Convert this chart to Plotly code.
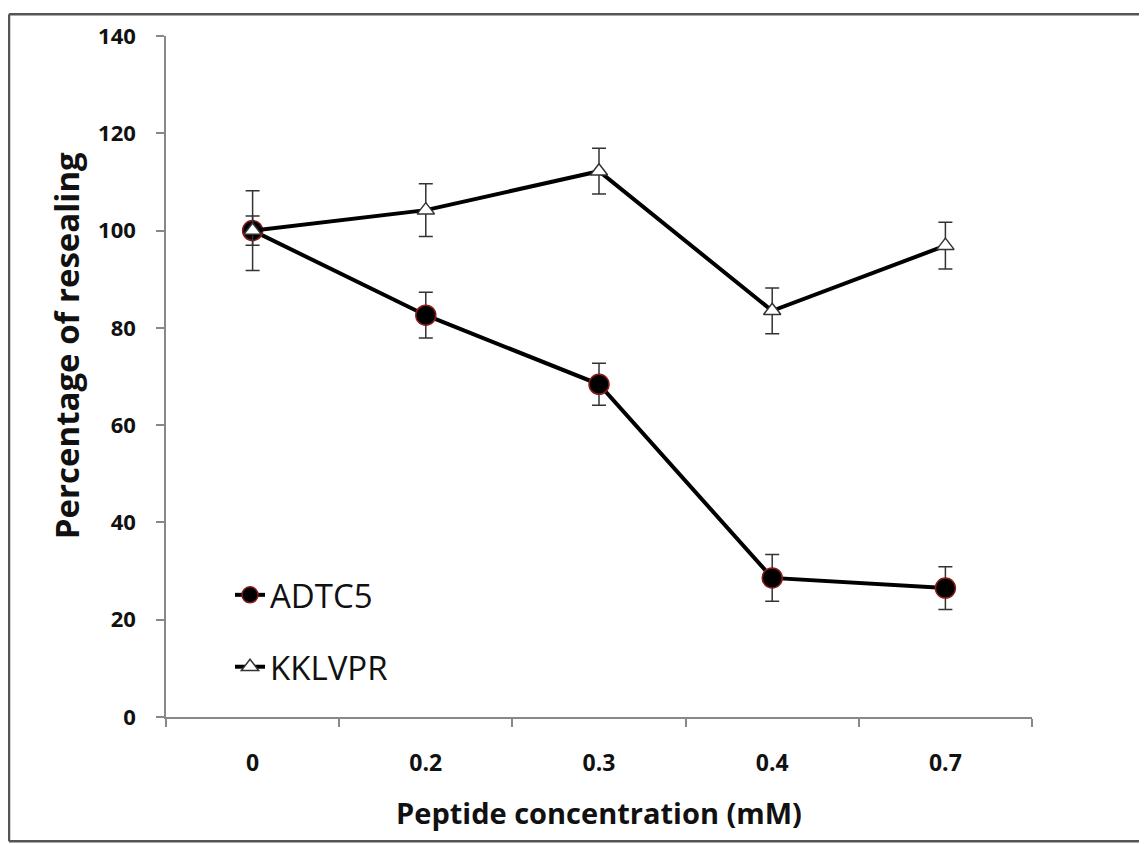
import plotly.graph_objects as go

categories = ["0", "0.2", "0.3", "0.4", "0.7"]
adtc5 = [100, 82.6, 68.4, 28.6, 26.5]
adtc5_err = [3.0, 4.7, 4.3, 4.8, 4.4]
kklvpr = [100, 104.2, 112.2, 83.5, 96.9]
kklvpr_err = [8.2, 5.4, 4.7, 4.7, 4.8]
y_ticks = [0, 20, 40, 60, 80, 100, 120, 140]

# page body has an 8px margin; work in screen coordinates and shift
OFF = 8
W, H = 1147 - 2 * OFF, 844 - OFF
AX_L, AX_R, AX_T, AX_B = 166, 1032, 32, 717   # screen coords of plot area
L, R, T, B = AX_L - OFF, W - (AX_R - OFF), AX_T - OFF, H - (AX_B - OFF)
pw, ph = AX_R - AX_L, AX_B - AX_T

def px_x(p):
    return (p - AX_L) / pw

def px_y(p):
    return (AX_B - p) / ph

FONT = "Open Sans"

fig = go.Figure()
fig.add_trace(go.Scatter(
    x=categories, y=adtc5, name="ADTC5", mode="lines+markers",
    legendgroup="a",
    line=dict(color="black", width=4),
    marker=dict(symbol="circle", size=20, color="black",
                line=dict(color="#8b1a1a", width=1.5)),
    error_y=dict(type="data", array=adtc5_err, color="#333333",
                 thickness=1.5, width=7),
))
fig.add_trace(go.Scatter(
    x=categories, y=kklvpr, name="KKLVPR", mode="lines+markers",
    legendgroup="b",
    line=dict(color="black", width=4),
    marker=dict(symbol="triangle-up", size=15, color="white",
                line=dict(color="#333333", width=1.5)),
    error_y=dict(type="data", array=kklvpr_err, color="#333333",
                 thickness=1.5, width=7),
))

border = dict(color="#555555", width=2.5)
x_left, x_right = px_x(9), px_x(1200)
y_top, y_bot = px_y(10), px_y(842)

fig.update_layout(
    width=W, height=H,
    margin=dict(l=L, r=R, t=T, b=B),
    paper_bgcolor="white", plot_bgcolor="white",
    font=dict(family=FONT, color="black"),
    showlegend=True,
    legend=dict(
        x=px_x(230), y=px_y(566), xanchor="left", yanchor="top",
        bgcolor="rgba(0,0,0,0)",
        font=dict(family=FONT, size=33, color="#111111"),
        traceorder="grouped", tracegroupgap=26,
        itemwidth=30,
    ),
    xaxis=dict(
        type="category", range=[-0.5, 4.5],
        showline=True, linecolor="#888888", linewidth=1.5,
        ticks="outside", tickson="boundaries", ticklen=8,
        tickcolor="#888888", tickwidth=1.5,
        showgrid=False, zeroline=False,
        tickfont=dict(family=FONT, size=23, color="#111111", weight="bold"),
        ticklabelstandoff=25,
        title=dict(text="Peptide concentration (mM)", standoff=26,
                   font=dict(family=FONT, size=29, color="#111111", weight="bold")),
    ),
    yaxis=dict(
        range=[0, 140], tickvals=y_ticks,
        showline=True, linecolor="#888888", linewidth=1.5,
        ticks="outside", ticklen=8, tickcolor="#888888", tickwidth=1.5,
        showgrid=False, zeroline=False,
        tickfont=dict(family=FONT, size=22, color="#111111", weight="bold"),
        ticklabelstandoff=16,
    ),
    annotations=[dict(
        text="Percentage of resealing", textangle=-90,
        xref="paper", yref="paper", x=px_x(66), y=px_y(344),
        xanchor="center", yanchor="middle", showarrow=False,
        font=dict(family=FONT, size=33, color="#111111", weight="bold"),
    )],
    shapes=[
        dict(type="line", xref="paper", yref="paper",
             x0=x_left, x1=x_right, y0=y_top, y1=y_top, line=border),
        dict(type="line", xref="paper", yref="paper",
             x0=x_left, x1=x_left, y0=y_bot, y1=y_top, line=border),
        dict(type="line", xref="paper", yref="paper",
             x0=x_left, x1=x_right, y0=y_bot, y1=y_bot, line=border),
    ],
)

fig.write_html("out.html")
